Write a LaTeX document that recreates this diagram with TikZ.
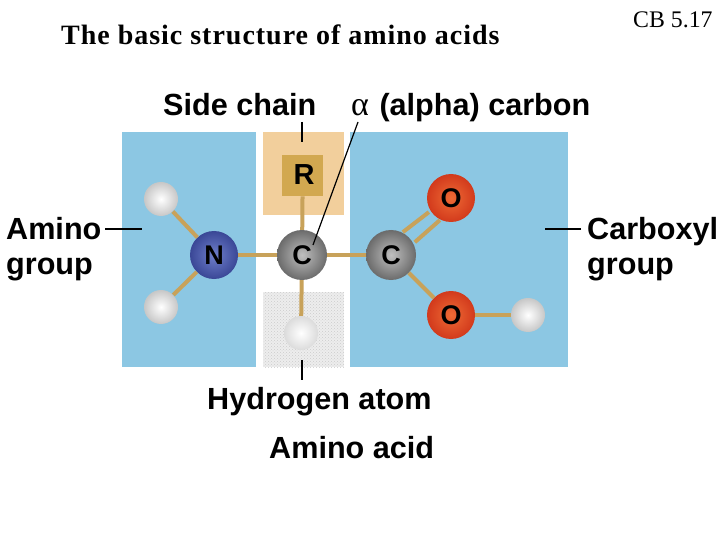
\documentclass[tikz,border=0pt]{standalone}
\usepackage{fontspec}
\usetikzlibrary{patterns}
\setmainfont{Liberation Serif}
\newfontfamily\labelfont{Liberation Sans}
\newfontfamily\titlefont[LetterSpace=3.5]{Liberation Serif}
\definecolor{panelblue}{HTML}{8CC7E3}
\definecolor{sidetan}{HTML}{F2CF9C}
\definecolor{rtan}{HTML}{D2A850}
\definecolor{bondtan}{HTML}{C8A25A}
\definecolor{ninner}{HTML}{6F7FCB}
\definecolor{nouter}{HTML}{3A4796}
\definecolor{oinner}{HTML}{EE6A35}
\definecolor{oouter}{HTML}{D23A1C}
\tikzset{
  panel/.style={inner sep=0pt,anchor=north west},
  bond/.style={draw=bondtan,line width=4pt},
  tick/.style={draw=black,line width=1.2pt},
  atom/.style={circle,inner sep=0pt,minimum size=#1,shading=radial,font=\labelfont\bfseries\fontsize{27}{27}\selectfont},
  hatom/.style={circle,inner sep=0pt,minimum size=34pt,shading=radial,inner color=white,outer color=black!22},
  lbl/.style={anchor=base west,inner sep=0pt,align=left,font=\labelfont\bfseries\fontsize{30.6}{35}\selectfont},
}
\begin{document}
\begin{tikzpicture}[x=1pt,y=-1pt]
  \useasboundingbox (0,0) rectangle (720,540);
  \draw
    (122,132) node[panel,fill=panelblue,minimum width=134pt,minimum height=235pt] (aminobox){}
    (350,132) node[panel,fill=panelblue,minimum width=218pt,minimum height=235pt] (carboxylbox){}
    (263,132) node[panel,fill=sidetan,minimum width=81pt,minimum height=83pt] (sidebox){}
    (263,292) node[panel,fill=black!7,postaction={pattern=crosshatch dots,pattern color=black!20},minimum width=81pt,minimum height=75pt] (hbox){}
    (282,155) node[panel,fill=rtan,minimum width=41pt,minimum height=41pt] (rbox){};
  \draw
    (214,255) node[atom=48pt,inner color=ninner,outer color=nouter] (n){N}
    (302,255) node[atom=50pt,inner color=black!25,outer color=black!58] (ca){C}
    (391,255) node[atom=50pt,inner color=black!25,outer color=black!58] (c){C}
    (451,198) node[atom=48pt,inner color=oinner,outer color=oouter] (o1){O}
    (451,315) node[atom=48pt,inner color=oinner,outer color=oouter] (o2){O}
    (161,199) node[hatom] (h1){}
    (161,307) node[hatom] (h2){}
    (301,333) node[hatom,outer color=black!14] (h3){}
    (528,315) node[hatom] (h4){}
    (304,175) node[inner sep=0pt,font=\labelfont\bfseries\fontsize{29}{29}\selectfont] (r){R};
  \coordinate (dbla) at (-6,-5);
  \coordinate (dblb) at (6,5);
  \begin{scope}[-]
    \draw[bond] (n) to (h1);
    \draw[bond] (n) to (h2);
    \draw[bond] (n) to (ca);
    \draw[bond] (ca) to (rbox);
    \draw[bond] (ca) to (h3);
    \draw[bond] (ca) to (c);
    \draw[bond] ([shift={(dbla)}]c.north east) to ([shift={(-5,-3)}]o1.south west);
    \draw[bond] ([shift={(dblb)}]c.north east) to ([shift={(6,5)}]o1.south west);
    \draw[bond] (c) to (o2);
    \draw[bond] (o2) to (h4);
  \end{scope}
  \draw
    (61,44.5) node[anchor=base west,inner sep=0pt,font=\titlefont\bfseries\fontsize{28}{28}\selectfont] (title){The basic structure of amino acids}
    (633,28) node[anchor=base west,inner sep=0pt,font=\fontsize{23.8}{24}\selectfont] (cb){CB 5.17}
    (163,116) node[lbl] (sidelbl){Side chain}
    (351,116) node[lbl] (alphalbl){{\rmfamily\mdseries\fontsize{34}{34}\selectfont α}\kern2pt\ (alpha) carbon}
    (6,240) node[lbl,anchor=north west,yshift=23pt] (aminolbl){Amino\\group}
    (587,240) node[lbl,anchor=north west,yshift=23pt] (carboxyllbl){Carboxyl\\group}
    (207,409) node[lbl] (hlbl){Hydrogen atom}
    (269,458) node[lbl] (acidlbl){Amino acid};
  \coordinate (sidetop) at (302,122);
  \coordinate (sidetip) at (302,142);
  \coordinate (htop) at (302,360);
  \coordinate (htip) at (302,380);
  \coordinate (aminoend) at (105,229);
  \coordinate (aminotip) at (142,229);
  \coordinate (carboxylend) at (581,229);
  \coordinate (carboxyltip) at (545,229);
  \coordinate (alphatip) at (358,122);
  \coordinate (catip) at (313,245);
  \begin{scope}[-]
    \draw[tick] (sidetop) to (sidetip);
    \draw[tick] (htop) to (htip);
    \draw[tick] (aminoend) to (aminotip);
    \draw[tick] (carboxylend) to (carboxyltip);
    \draw[tick] (alphatip) to (catip);
  \end{scope}
\end{tikzpicture}
\end{document}
